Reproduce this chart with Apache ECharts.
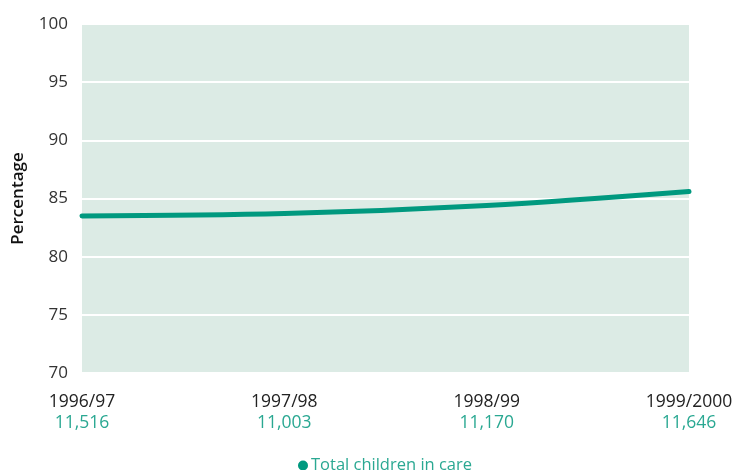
<!DOCTYPE html>
<html><head><meta charset="utf-8">
<script src="https://cdn.jsdelivr.net/npm/echarts@6/dist/echarts.min.js"></script>
<style>html,body{margin:0;padding:0;background:#fff}#c{width:737px;height:470px}</style>
</head><body><div id="c"></div>
<script>
const categories = ['1996/97', '1997/98', '1998/99', '1999/2000'];
const totals = ['11,516', '11,003', '11,170', '11,646'];
const percentages = [83.5, 83.7, 84.4, 85.6];
const seriesName = 'Total children in care';

const chart = echarts.init(document.getElementById('c'), null, {renderer: 'canvas'});
const font = '"Open Sans", "Noto Sans", sans-serif';
chart.setOption({
  animation: false,
  grid: {left: 82, right: 48, top: 24, bottom: 97, show: true, backgroundColor: '#dcebe5', borderWidth: 0},
  legend: {
    top: 452, left: 293, icon: 'circle', itemWidth: 10, itemHeight: 10, itemGap: 4,
    textStyle: {color: '#2aa892', fontSize: 16.5, fontFamily: font, padding: [0,0,0,-2]},
    data: [seriesName]
  },
  xAxis: {
    type: 'category', data: categories, boundaryGap: false,
    axisLine: {show: false}, axisTick: {show: false}, splitLine: {show: false},
    axisLabel: {
      margin: 19, fontFamily: font, interval: 0,
      formatter: (v, i) => '{a|' + v + '}\n{b|' + totals[i] + '}',
      rich: {
        a: {color: '#222', fontSize: 17.5, fontFamily: font, lineHeight: 21},
        b: {color: '#2aa892', fontSize: 17.5, fontFamily: font, lineHeight: 21}
      }
    }
  },
  yAxis: {
    type: 'value', min: 70, max: 100, interval: 5,
    name: 'Percentage', nameLocation: 'middle', nameGap: 55, nameRotate: 90,
    nameTextStyle: {color: '#111', fontSize: 17, fontWeight: 600, fontFamily: font},
    axisLine: {show: false}, axisTick: {show: false},
    axisLabel: {color: '#333', fontSize: 17, fontFamily: font, margin: 14},
    splitLine: {show: true, lineStyle: {color: '#ffffff', width: 2}}
  },
  series: [{
    name: seriesName, type: 'line', data: percentages, smooth: 0.35,
    symbol: 'none', lineStyle: {color: '#00997f', width: 5, cap: 'round'},
    itemStyle: {color: '#00997f'}
  }]
});
</script></body></html>
